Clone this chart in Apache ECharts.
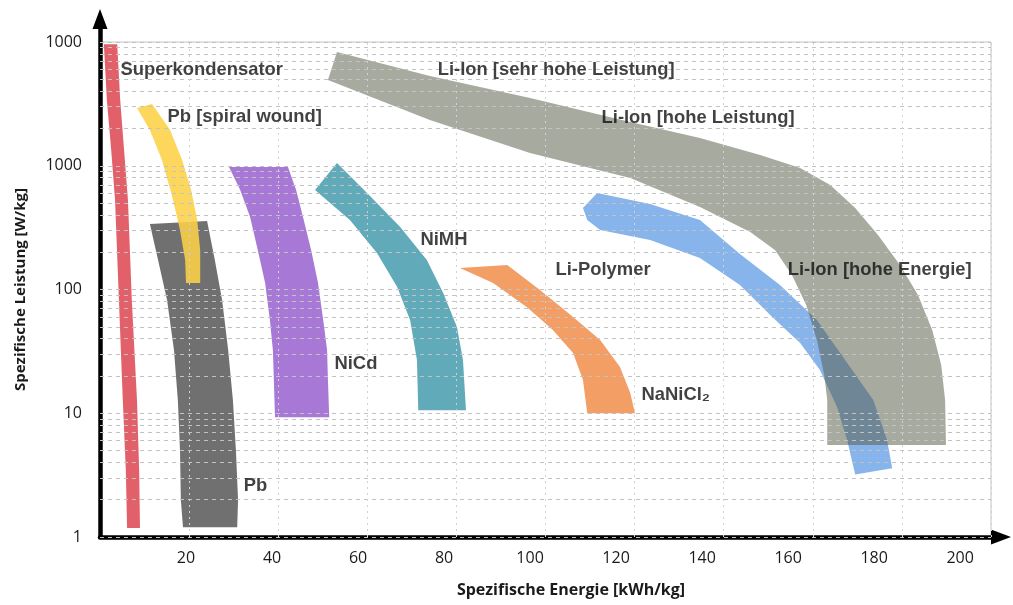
<!DOCTYPE html>
<html>
<head>
<meta charset="utf-8">
<script src="https://cdn.jsdelivr.net/npm/echarts@6/dist/echarts.min.js"></script>
<style>
html,body{margin:0;padding:0;background:#fff;}
#chart{width:1013px;height:605px;}
</style>
</head>
<body>
<div id="chart"></div>
<script>
// ---- axis ticks ----
const xTickStep = 20;
const xTickMax = 200;
const yTickLabels = ['1', '10', '100', '1000', '1000'];

// ---- band outlines: [spezifische Energie (kWh/kg), spezifische Leistung (W/kg)] ----
const superkondensator = [[0.9,9600],[1.6,3400],[2.6,1340],[3.5,529],[4.4,82],[5.3,12.8],[6.0,3.5],[6.3,1.18],
  [9.3,1.18],[9.1,3.5],[8.6,12.8],[7.4,82],[6.5,529],[5.6,1340],[4.7,3400],[4.0,9600]];
const pbSpiralWound = [[8.6,2930],[11.6,1945],[14.4,1113],[16.7,580],[18.6,303],[19.8,173],[20.0,113],
  [23.3,113],[23.3,208],[22.6,365],[21.2,637],[19.1,1113],[16.3,1945],[12.1,3150]];
const pb = [[11.6,338],[13.5,173],[15.6,82],[17.2,32.4],[18.1,12.8],[18.6,5.05],[18.8,1.99],[19.3,1.2],
  [31.9,1.2],[32.1,1.99],[31.6,5.05],[30.9,12.8],[29.8,32.4],[28.4,82],[26.7,173],[24.9,358]];
const nicd = [[30.0,977],[32.6,637],[34.9,385],[36.7,208],[38.4,113],[39.5,56.7],[40.2,32.4],[40.7,9.3],
  [53.3,9.3],[53.0,18.6],[52.8,32.4],[51.9,56.7],[50.7,113],[49.1,208],[47.2,385],[45.6,637],[43.7,977]];
const nimh = [[50.0,637],[58.1,365],[64.4,197],[69.1,105],[72.1,56.7],[73.7,26.9],[74.0,10.6],
  [85.1,10.6],[84.4,26.9],[83.0,49.8],[79.8,93.7],[76.0,173],[69.8,320],[62.1,602],[55.1,1052]];
const nanicl2 = [[83.7,149],[91.4,113],[99.3,72],[105.3,47],[110.0,30.7],[112.3,18.6],[113.3,10],
  [124.4,10],[123.3,14.6],[120.9,23.6],[116.3,39],[110.0,60],[102.3,99],[94.7,158]];
const liPolymer = [[112.3,456],[115.6,602],[127.9,491],[139.5,365],[148.8,194],[158.1,109],[166.7,56.7],
  [174.4,23.6],[179.8,12.8],[183.0,6.1],[184.2,3.6],[175.6,3.2],[173.7,6.1],[171.4,11.2],[167.4,22.4],
  [162.8,37],[156.5,59],[148.8,109],[139.5,180],[127.9,251],[116.3,303],[113.3,365]];
const liIon = [[55.1,8300],[76.7,5310],[100.0,3530],[123.3,2259],[139.5,1676],[153.5,1222],[162.8,959],
  [169.8,699],[175.6,456],[180.9,276],[186.0,158],[190.2,90.3],[193.5,47.1],[195.6,24.5],[196.5,12.8],
  [196.7,5.54],[169.1,5.54],[169.1,12.8],[168.4,20.4],[166.7,39.1],[164.2,75],[160.9,131],[157.0,208],
  [151.2,292],[139.5,464],[123.3,796],[100.0,1268],[76.7,2340],[53.0,4930]];

// ---- band labels ----
const labelNames = ['Superkondensator','Pb [spiral wound]','Li-Ion [sehr hohe Leistung]','Li-Ion [hohe Leistung]',
  'NiMH','Li-Polymer','Li-Ion [hohe Energie]','NiCd','NaNiCl₂','Pb'];
const labelX = [4.65, 15.6, 78.4, 116.5, 74.4, 105.8, 159.8, 54.4, 125.8, 33.3];
const labelY = [5940, 2477, 5940, 2432, 251, 144, 144, 25.0, 14.0, 2.58];

// ---- background grid ----
const hGridDecades = [1, 10, 100, 1000];
const hGridSteps = [1, 2, 3, 4, 5, 6, 7, 8, 9];
const vGridStep = 20.72;
const vGridCount = 10;

const hGrid = [];
hGridDecades.forEach(d => hGridSteps.forEach(m => hGrid.push(d * m)));
hGrid.push(10000);
const vGrid = [];
for (let i = 1; i <= vGridCount; i++) vGrid.push(+(i * vGridStep).toFixed(2));

function band(name, pts, color, z) {
  return {
    type: 'custom', name: name, xAxisIndex: 0, yAxisIndex: 0, z: z, silent: true,
    data: pts, encode: {x: 0, y: 1},
    renderItem: function (params, api) {
      if (params.dataIndex !== 0) return null;
      return {
        type: 'polygon',
        shape: {points: pts.map(p => api.coord(p))},
        style: {fill: color}
      };
    }
  };
}

const chart = echarts.init(document.getElementById('chart'), null, {renderer: 'canvas'});
const axisLineStyle = {color: '#000', width: 4.5};
const tickFont = {fontFamily: 'Open Sans', fontSize: 16, color: '#1a1a1a'};

chart.setOption({
  backgroundColor: '#fff',
  animation: false,
  grid: [
    {left: 100, right: 12, top: 19, bottom: 68},
    {left: 100, right: 22, top: 42, bottom: 68, show: true, borderColor: '#c4c4c4', borderWidth: 1, backgroundColor: 'transparent'}
  ],
  xAxis: [
    {
      type: 'value', gridIndex: 0, min: 0, max: 209.5, interval: xTickStep,
      name: 'Spezifische Energie [kWh/kg]', nameLocation: 'middle', nameGap: 45,
      nameTextStyle: {fontFamily: 'Open Sans', fontWeight: 'bold', fontSize: 16, color: '#1a1a1a', padding: [0, 0, 0, 41]},
      axisLine: {show: true, lineStyle: axisLineStyle, symbol: ['none', 'triangle'], symbolSize: [15, 20]},
      axisTick: {show: false}, splitLine: {show: false},
      axisLabel: Object.assign({margin: 13, formatter: v => (v > 0 && v <= xTickMax && v % xTickStep === 0) ? String(v) : ''}, tickFont)
    },
    {type: 'value', gridIndex: 1, min: 0, max: 207.2, show: false}
  ],
  yAxis: [
    {
      type: 'log', logBase: 10, gridIndex: 0, min: 1, max: 15350,
      axisLine: {show: true, lineStyle: axisLineStyle, symbol: ['none', 'triangle'], symbolSize: [15, 20]},
      axisTick: {show: false}, splitLine: {show: false}, minorSplitLine: {show: false},
      axisLabel: Object.assign({margin: 18, formatter: function (v) {
        const k = Math.log10(v); const r = Math.round(k);
        return (Math.abs(k - r) < 1e-6 && r >= 0 && r < yTickLabels.length) ? yTickLabels[r] : '';
      }}, tickFont)
    },
    {
      type: 'log', logBase: 10, gridIndex: 1, min: 1, max: 10000, show: true,
      name: 'Spezifische Leistung [W/kg]', nameLocation: 'middle', nameRotate: 90, nameGap: 72,
      nameTextStyle: {fontFamily: 'Open Sans', fontWeight: 'bold', fontSize: 15, color: '#1a1a1a'},
      axisLine: {show: false}, axisTick: {show: false}, axisLabel: {show: false}, splitLine: {show: false}
    }
  ],
  series: [
    {
      type: 'line', xAxisIndex: 1, yAxisIndex: 1, z: 1, silent: true, data: [[0, 1]], showSymbol: false,
      lineStyle: {width: 0},
      markLine: {
        silent: true, symbol: ['none', 'none'], label: {show: false}, animation: false,
        lineStyle: {color: '#c2c2c2', type: [4, 4], width: 1},
        data: hGrid.map(v => ({yAxis: v}))
      }
    },
    {
      type: 'line', xAxisIndex: 1, yAxisIndex: 1, z: 1, silent: true, data: [[0, 1]], showSymbol: false,
      lineStyle: {width: 0},
      markLine: {
        silent: true, symbol: ['none', 'none'], label: {show: false}, animation: false,
        lineStyle: {color: '#d2d2d2', type: [2, 4], width: 1},
        data: vGrid.map(v => ({xAxis: v}))
      }
    },
    band('Superkondensator', superkondensator, 'rgba(224,82,93,0.92)', 3),
    band('Pb', pb, 'rgba(100,100,100,0.92)', 3),
    band('Pb [spiral wound]', pbSpiralWound, 'rgba(252,210,70,0.88)', 4),
    band('NiCd', nicd, 'rgba(160,108,210,0.92)', 3),
    band('NiMH', nimh, 'rgba(84,163,179,0.92)', 3),
    band('NaNiCl2', nanicl2, 'rgba(242,150,88,0.92)', 3),
    band('Li-Polymer', liPolymer, 'rgba(126,174,234,0.92)', 3),
    band('Li-Ion', liIon, 'rgba(86,92,70,0.52)', 4),
    {
      type: 'scatter', xAxisIndex: 0, yAxisIndex: 0, z: 10, silent: true,
      symbolSize: 1, itemStyle: {color: 'transparent'},
      data: labelNames.map((n, i) => ({name: n, value: [labelX[i], labelY[i]]})),
      label: {show: true, position: 'right', distance: 0, formatter: '{b}',
        fontFamily: 'Liberation Sans', fontWeight: 'bold', fontSize: 18.4, color: '#111'}
    }
  ]
});
</script>
</body>
</html>
